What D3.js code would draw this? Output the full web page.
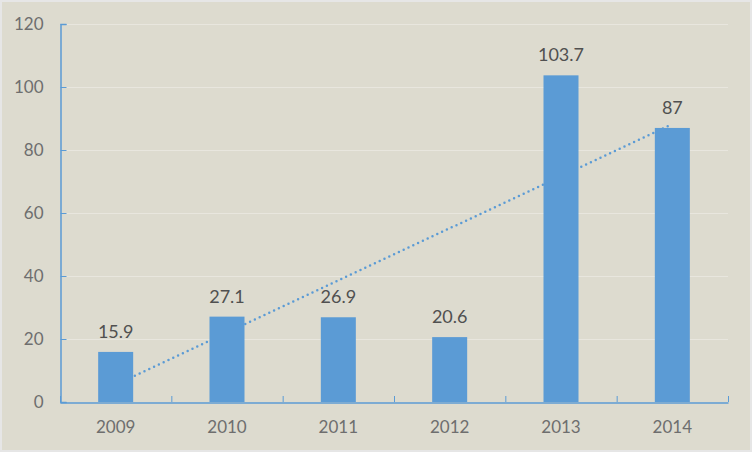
<!DOCTYPE html>
<html>
<head>
<meta charset="utf-8">
<script src="https://cdn.jsdelivr.net/npm/d3@7"></script>
<style>
  body { margin: 0; background: #dddbcf; }
  svg { display: block; font-family: Lato, "Open Sans", sans-serif; }
</style>
</head>
<body>
<div id="container"></div>
<script>
/* DATA */
const years = ["2009", "2010", "2011", "2012", "2013", "2014"];
const values = [15.9, 27.1, 26.9, 20.6, 103.7, 87];
const yTicks = [0, 20, 40, 60, 80, 100, 120];

/* CONSTANTS */
const width = 752, height = 452,
  margin = { top: 24, right: 24, bottom: 50, left: 60 };

const svg = d3.select("#container").append("svg")
  .attr("width", width)
  .attr("height", height);

// background + light frame
svg.append("rect")
  .attr("x", 1).attr("y", 1)
  .attr("width", width - 2).attr("height", height - 2)
  .attr("fill", "#dddbcf")
  .attr("stroke", "#e6e6e6")
  .attr("stroke-width", 2);

const x = d3.scaleBand()
  .domain(years)
  .range([margin.left, width - margin.right]);

const y = d3.scaleLinear()
  .domain([0, 120])
  .range([height - margin.bottom, margin.top]);

// GRIDLINES
svg.selectAll("line.grid")
  .data(yTicks.filter(d => d > 0))
  .join("line")
  .attr("class", "grid")
  .attr("x1", margin.left).attr("x2", width - margin.right)
  .attr("y1", d => y(d) + 0.5).attr("y2", d => y(d) + 0.5)
  .attr("stroke", "#e8e6de")
  .attr("stroke-width", 1);

// TRENDLINE (linear least squares, behind bars)
const xs = values.map((d, i) => i + 1);
const mx = d3.mean(xs), my = d3.mean(values);
const slope = d3.sum(xs, (xi, i) => (xi - mx) * (values[i] - my)) /
  d3.sum(xs, xi => (xi - mx) ** 2);
const icpt = my - slope * mx;
const cx = i => x(years[i]) + x.bandwidth() / 2;

svg.append("line")
  .attr("x1", cx(0)).attr("y1", y(icpt + slope * 1))
  .attr("x2", cx(5)).attr("y2", y(icpt + slope * 6))
  .attr("stroke", "#5b9bd5")
  .attr("stroke-width", 2.5)
  .attr("stroke-linecap", "round")
  .attr("stroke-dasharray", "0 5.3");

// BARS
const barW = 35;
svg.selectAll("rect.bar")
  .data(values)
  .join("rect")
  .attr("class", "bar")
  .attr("x", (d, i) => cx(i) - barW / 2)
  .attr("y", d => y(d))
  .attr("width", barW)
  .attr("height", d => y(0) - y(d))
  .attr("fill", "#5b9bd5");

// DATA LABELS
svg.selectAll("text.label")
  .data(values)
  .join("text")
  .attr("class", "label")
  .attr("x", (d, i) => cx(i))
  .attr("y", d => y(d) - 14)
  .attr("text-anchor", "middle")
  .attr("font-size", 18)
  .attr("fill", "#505050")
  .text(d => d);

// AXES
const axisColor = "#5b9bd5";
const xAxis = svg.append("g")
  .attr("transform", `translate(0,${y(0) + 0.5})`)
  .call(d3.axisBottom(x).tickSize(0).tickPadding(18));
xAxis.select(".domain").attr("stroke", axisColor).attr("stroke-width", 1.5);
xAxis.selectAll("text").attr("font-size", 17).attr("fill", "#6e6e6e")
  .attr("font-family", "Lato, 'Open Sans', sans-serif");

// category boundary ticks (inside)
svg.selectAll("line.xtick")
  .data(years.concat(["end"]))
  .join("line")
  .attr("class", "xtick")
  .attr("x1", (d, i) => margin.left + i * x.step() + 0.5)
  .attr("x2", (d, i) => margin.left + i * x.step() + 0.5)
  .attr("y1", y(0)).attr("y2", y(0) - 6)
  .attr("stroke", axisColor).attr("stroke-width", 1);

const yAxis = svg.append("g")
  .attr("transform", `translate(${margin.left + 0.5},0)`)
  .call(d3.axisRight(y).tickValues(yTicks).tickSize(6).tickFormat(d3.format("d")));
yAxis.select(".domain").attr("stroke", axisColor).attr("stroke-width", 1.5);
yAxis.selectAll(".tick line").attr("stroke", axisColor);
yAxis.selectAll("text")
  .attr("x", -17)
  .attr("text-anchor", "end")
  .attr("font-size", 17).attr("fill", "#6e6e6e")
  .attr("font-family", "Lato, 'Open Sans', sans-serif");
</script>
</body>
</html>
